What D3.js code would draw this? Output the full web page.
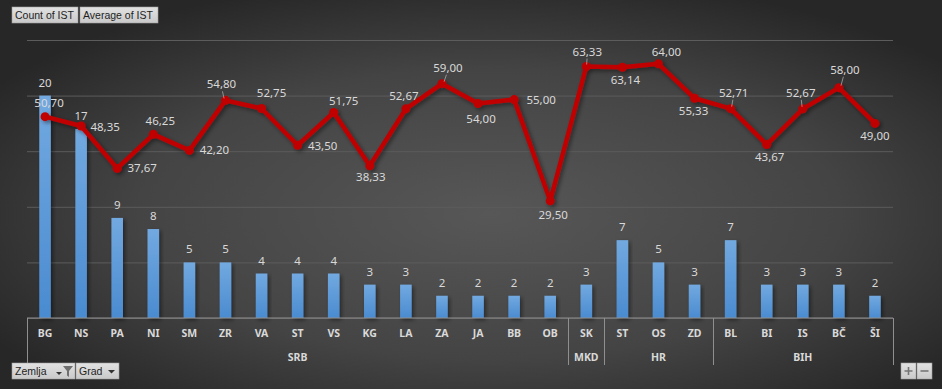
<!DOCTYPE html>
<html>
<head>
<meta charset="utf-8">
<script src="https://cdn.jsdelivr.net/npm/d3@7"></script>
<style>
  body { margin: 0; background: #2b2b2b; }
  svg { display: block; }
</style>
</head>
<body>
<div id="chart"></div>
<script>
// podaci
const cities = ['BG', 'NS', 'PA', 'NI', 'SM', 'ZR', 'VA', 'ST', 'VS', 'KG', 'LA', 'ZA', 'JA', 'BB', 'OB',
  'SK', 'ST', 'OS', 'ZD', 'BL', 'BI', 'IS', 'BČ', 'ŠI'];
const countries = ['SRB', 'SRB', 'SRB', 'SRB', 'SRB', 'SRB', 'SRB', 'SRB', 'SRB', 'SRB', 'SRB', 'SRB', 'SRB', 'SRB', 'SRB',
  'MKD', 'HR', 'HR', 'HR', 'BIH', 'BIH', 'BIH', 'BIH', 'BIH'];
const countIST = [20, 17, 9, 8, 5, 5, 4, 4, 4, 3, 3, 2, 2, 2, 2, 3, 7, 5, 3, 7, 3, 3, 3, 2];
const avgIST = [50.70, 48.35, 37.67, 46.25, 42.20, 54.80, 52.75, 43.50, 51.75, 38.33, 52.67, 59.00,
  54.00, 55.00, 29.50, 63.33, 63.14, 64.00, 55.33, 52.71, 43.67, 52.67, 58.00, 49.00];

// pozicije labela linije (dx, dy od tacke), leader = tanka linija
const avgLabelPos = [
  [4, -14], [24, 1], [25, 0], [7, -13], [25, 0], [-4, -16], [10, -16], [25, 1], [10, -12], [1, 11],
  [-2, -13], [6, -16], [3, 15], [27, 0], [3, 14], [1, -15], [3, 13], [8, -12], [-1, 13], [3, -16],
  [3, 12], [-2, -16], [6, -18], [0, 13]
];
const leaderIdx = [5, 11, 15, 19, 21, 22];

const W = 942, H = 389;
const plotLeft = 27, plotRight = 893, plotTop = 40, plotBottom = 318;
const keys = cities.map((c, i) => `${countries[i]}-${c}-${i}`);

const svg = d3.select('#chart').append('svg')
  .attr('width', W).attr('height', H);

const defs = svg.append('defs');
const bg = defs.append('radialGradient').attr('id', 'bg')
  .attr('cx', '52%').attr('cy', '55%').attr('r', '62%');
bg.append('stop').attr('offset', '0%').attr('stop-color', '#575757');
bg.append('stop').attr('offset', '60%').attr('stop-color', '#444444');
bg.append('stop').attr('offset', '100%').attr('stop-color', '#272727');

const barGrad = defs.append('linearGradient').attr('id', 'barGrad')
  .attr('x1', 0).attr('y1', 0).attr('x2', 0).attr('y2', 1);
barGrad.append('stop').attr('offset', '0%').attr('stop-color', '#72a9e0');
barGrad.append('stop').attr('offset', '100%').attr('stop-color', '#4a8bd0');

const btnGrad = defs.append('linearGradient').attr('id', 'btnGrad')
  .attr('x1', 0).attr('y1', 0).attr('x2', 0).attr('y2', 1);
btnGrad.append('stop').attr('offset', '0%').attr('stop-color', '#e2e2e2');
btnGrad.append('stop').attr('offset', '100%').attr('stop-color', '#c9c9c9');

const shadow = defs.append('filter').attr('id', 'shadow')
  .attr('x', '-20%').attr('y', '-20%').attr('width', '160%').attr('height', '160%');
shadow.append('feDropShadow').attr('dx', 2).attr('dy', 2).attr('stdDeviation', 2)
  .attr('flood-color', '#000').attr('flood-opacity', 0.45);

svg.append('rect').attr('width', W).attr('height', H).attr('fill', 'url(#bg)');

const x = d3.scaleBand().domain(keys).range([plotLeft, plotRight]).paddingInner(0.68).paddingOuter(0.34);
const xc = (i) => x(keys[i]) + x.bandwidth() / 2;
const yCount = d3.scaleLinear().domain([0, 25]).range([plotBottom, plotTop]);
const yAvg = d3.scaleLinear().domain([0, 70]).range([plotBottom, plotTop]);

// mreza
const grid = svg.append('g').attr('transform', `translate(${plotLeft},0)`)
  .call(d3.axisLeft(yCount).ticks(5).tickSize(-(plotRight - plotLeft)).tickFormat(''));
grid.select('.domain').remove();
grid.selectAll('.tick line').attr('stroke', '#5c5c5c').attr('stroke-width', 1);

// stubici
svg.append('g').selectAll('rect')
  .data(countIST)
  .join('rect')
  .attr('x', (d, i) => x(keys[i]))
  .attr('y', (d) => yCount(d))
  .attr('width', x.bandwidth())
  .attr('height', (d) => yCount(0) - yCount(d))
  .attr('fill', 'url(#barGrad)')
  .attr('filter', 'url(#shadow)');

const labelFont = '"Noto Sans", sans-serif';

svg.append('g').selectAll('text')
  .data(countIST)
  .join('text')
  .attr('x', (d, i) => xc(i))
  .attr('y', (d) => yCount(d) - 13)
  .attr('dy', '0.35em')
  .attr('text-anchor', 'middle')
  .attr('fill', '#d9d9d9')
  .style('font', `11.5px ${labelFont}`)
  .text((d) => d);

// x osa
const axisG = svg.append('g');
axisG.append('line').attr('x1', plotLeft).attr('x2', plotRight).attr('y1', plotBottom).attr('y2', plotBottom)
  .attr('stroke', '#8f8f8f').attr('stroke-width', 1.2);
axisG.selectAll('text.city')
  .data(cities)
  .join('text')
  .attr('class', 'city')
  .attr('x', (d, i) => xc(i))
  .attr('y', 333)
  .attr('dy', '0.35em')
  .attr('text-anchor', 'middle')
  .attr('fill', '#d9d9d9')
  .style('font', `bold 10.5px ${labelFont}`)
  .text((d) => d);

const step = x.step();
const groupNames = Array.from(new Set(countries));
const groupRanges = groupNames.map((g) => {
  const first = countries.indexOf(g);
  const last = countries.lastIndexOf(g);
  return { name: g, x0: x(keys[first]) - x.paddingInner() * step / 2, x1: x(keys[last]) + x.bandwidth() + x.paddingInner() * step / 2 };
});
groupRanges[0].x0 = plotLeft;
groupRanges[groupRanges.length - 1].x1 = plotRight;

const seps = [plotLeft].concat(groupRanges.map((g) => g.x1));
axisG.selectAll('line.sep')
  .data(seps)
  .join('line')
  .attr('class', 'sep')
  .attr('x1', (d) => Math.round(d) + 0.5).attr('x2', (d) => Math.round(d) + 0.5)
  .attr('y1', plotBottom).attr('y2', 365)
  .attr('stroke', '#8f8f8f').attr('stroke-width', 1);

axisG.selectAll('text.grp')
  .data(groupRanges)
  .join('text')
  .attr('class', 'grp')
  .attr('x', (d) => (d.x0 + d.x1) / 2)
  .attr('y', 357)
  .attr('dy', '0.35em')
  .attr('text-anchor', 'middle')
  .attr('fill', '#d9d9d9')
  .style('font', `bold 10.5px ${labelFont}`)
  .text((d) => d.name);

// linija prosjeka
const line = d3.line().x((d, i) => xc(i)).y((d) => yAvg(d));
const lineG = svg.append('g').attr('filter', 'url(#shadow)');
lineG.append('path')
  .datum(avgIST)
  .attr('d', line)
  .attr('fill', 'none')
  .attr('stroke', '#c00000')
  .attr('stroke-width', 4.5)
  .attr('stroke-linejoin', 'round');
lineG.selectAll('circle')
  .data(avgIST)
  .join('circle')
  .attr('cx', (d, i) => xc(i))
  .attr('cy', (d) => yAvg(d))
  .attr('r', 4.5)
  .attr('fill', '#c00000');

svg.append('g').selectAll('line')
  .data(leaderIdx)
  .join('line')
  .attr('x1', (i) => xc(i) + avgLabelPos[i][0] * 0.35)
  .attr('y1', (i) => yAvg(avgIST[i]) - 2)
  .attr('x2', (i) => xc(i) + avgLabelPos[i][0] * 0.75)
  .attr('y2', (i) => yAvg(avgIST[i]) + avgLabelPos[i][1] + 7)
  .attr('stroke', '#a6a6a6')
  .attr('stroke-width', 0.8);

const fmt = (v) => v.toFixed(2).replace('.', ',');
svg.append('g').selectAll('text')
  .data(avgIST)
  .join('text')
  .attr('x', (d, i) => xc(i) + avgLabelPos[i][0])
  .attr('y', (d, i) => yAvg(d) + avgLabelPos[i][1])
  .attr('dy', '0.35em')
  .attr('text-anchor', 'middle')
  .attr('fill', '#d9d9d9')
  .style('font', `11.5px ${labelFont}`)
  .text((d) => fmt(d));

// dugmad pivot tabele
function button(gx, gy, w, h, label) {
  const g = svg.append('g').attr('transform', `translate(${gx},${gy})`);
  g.append('rect').attr('width', w).attr('height', h)
    .attr('fill', 'url(#btnGrad)').attr('stroke', '#a0a0a0').attr('stroke-width', 0.6);
  if (label) {
    g.append('text').attr('x', 3).attr('y', h / 2).attr('dy', '0.35em')
      .attr('fill', '#1e1e1e')
      .style('font', '10.5px "Liberation Sans", Arial, sans-serif')
      .text(label);
  }
  return g;
}
button(12, 7, 66, 16, 'Count of IST');
button(80, 7, 78, 16, 'Average of IST');

const zem = button(12, 363, 63, 16, 'Zemlja');
zem.append('path').attr('d', 'M44,9 h6 l-3,3 z').attr('fill', '#333');
zem.append('path').attr('d', 'M51,3 h10 l-4,5 v6 l-2,-1.5 v-4.5 z').attr('fill', '#6f6f6f');
const grad = button(76, 363, 43, 16, 'Grad');
grad.append('path').attr('d', 'M32,7 h7 l-3.5,3.5 z').attr('fill', '#333');

const plus = button(901, 363, 15, 16, null);
plus.append('path').attr('d', 'M3.5,8 h8 M7.5,4 v8').attr('stroke', '#777').attr('stroke-width', 1.6);
const minus = button(917, 363, 15, 16, null);
minus.append('path').attr('d', 'M3.5,8 h8').attr('stroke', '#777').attr('stroke-width', 1.6);
</script>
</body>
</html>
